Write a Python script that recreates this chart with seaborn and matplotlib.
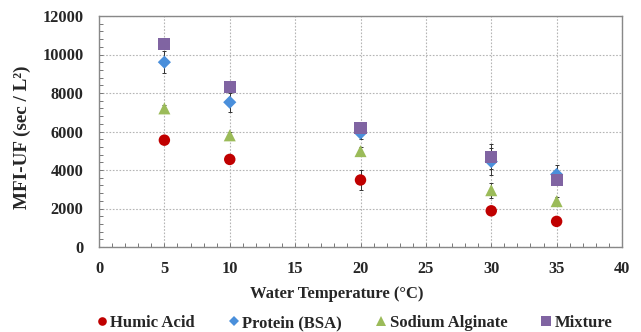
import numpy as np
import pandas as pd
import matplotlib
matplotlib.use("Agg")
import matplotlib.pyplot as plt
from matplotlib.ticker import MultipleLocator
from matplotlib.lines import Line2D
import seaborn as sns

temperature = [5, 10, 20, 30, 35]
humic_acid = [5550, 4550, 3480, 1880, 1330]
protein_bsa = [9600, 7520, 5920, 4440, 3770]
sodium_alginate = [7200, 5800, 4980, 2950, 2380]
mixture = [10540, 8300, 6200, 4690, 3500]

humic_err = [150, 150, 500, 150, 150]
protein_err = [560, 500, 300, 700, 480]
alginate_err = [200, 200, 200, 400, 200]
mixture_err = [200, 200, 200, 660, 200]

series_names = ["Humic Acid", "Protein (BSA)", "Sodium Alginate", "Mixture"]
series_values = [humic_acid, protein_bsa, sodium_alginate, mixture]
series_errs = [humic_err, protein_err, alginate_err, mixture_err]
colors = ["#C00000", "#4A8FDB", "#9BBB59", "#8064A2"]
markers = ["o", "D", "^", "s"]
sizes = [68, 45, 75, 75]
legend_sizes = [6.2, 4.6, 6.8, 6.6]

rows = []
for name, vals, errs in zip(series_names, series_values, series_errs):
    for t, v, e in zip(temperature, vals, errs):
        rows.append({"Temperature": t, "MFI": v, "err": e, "Series": name})
df = pd.DataFrame(rows)

sns.set_theme(style="white")
plt.rcParams["font.family"] = ["Liberation Serif", "DejaVu Serif"]
plt.rcParams["font.weight"] = "bold"

W, H = 641, 332
fig = plt.figure(figsize=(W / 100, H / 100), dpi=100)
ax = fig.add_axes([99 / W, 1 - 247 / H, (622 - 99) / W, (247 - 16) / H])

# error bars first so markers sit on top
for name in series_names:
    sub = df[df["Series"] == name]
    ax.errorbar(sub["Temperature"], sub["MFI"], yerr=sub["err"], fmt="none",
                ecolor="#333333", elinewidth=0.7, capsize=1.5, capthick=0.7, zorder=2)

for name, color, mk, sz in zip(series_names, colors, markers, sizes):
    sub = df[df["Series"] == name]
    sns.scatterplot(data=sub, x="Temperature", y="MFI", color=color, marker=mk,
                    s=sz, edgecolor="none", ax=ax, zorder=3, legend=False)

ax.set_xlim(0, 40)
ax.set_ylim(0, 12000)
ax.xaxis.set_major_locator(MultipleLocator(5))
ax.xaxis.set_minor_locator(MultipleLocator(1))
ax.yaxis.set_major_locator(MultipleLocator(2000))
ax.yaxis.set_minor_locator(MultipleLocator(400))
ax.grid(True, which="major", linestyle=(0, (1.5, 1.5)), color="#b5b5b5", linewidth=0.8)
ax.tick_params(axis="both", which="both", direction="in", length=3, width=0.7, color="#777777")
ax.tick_params(axis="both", which="major", labelsize=11.8)
ax.tick_params(axis="x", which="major", pad=10)
ax.tick_params(axis="y", which="major", pad=11)
ax.tick_params(axis="x", which="both", top=False, bottom=True)
ax.tick_params(axis="y", which="both", left=True, right=False)
for lbl in ax.get_xticklabels() + ax.get_yticklabels():
    lbl.set_fontweight("bold")
for sp in ax.spines.values():
    sp.set_color("#888888")
    sp.set_linewidth(1.0)

ax.set_xlabel("")
ax.set_ylabel("")
fig.text(337 / W, 1 - 294 / H, "Water Temperature (°C)", ha="center", va="center",
         fontsize=12, fontweight="bold")
fig.text(22 / W, 1 - 137 / H, "MFI-UF (sec / L²)", ha="center", va="center",
         rotation=90, fontsize=13.8, fontweight="bold")

handles = [Line2D([], [], linestyle="none", marker=mk, color=c, markersize=ms,
                  markeredgewidth=0)
           for mk, c, ms in zip(markers, colors, legend_sizes)]
fig.legend(handles, series_names, loc="center", bbox_to_anchor=(353 / W, 1 - 323 / H),
           ncol=4, frameon=False, handletextpad=0.0, columnspacing=1.85,
           handlelength=1.0, prop={"weight": "bold", "size": 12})

fig.savefig("out.png", dpi=100)
